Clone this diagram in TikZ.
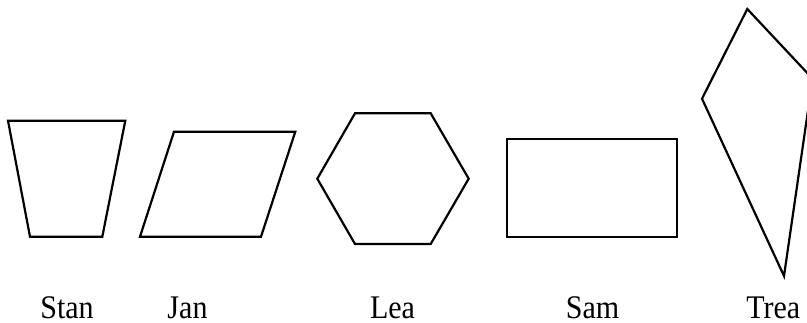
\documentclass[tikz,border=0pt]{standalone}
\usepackage{fontspec}
\setmainfont{Liberation Serif}
\newfontfamily\lblfont[FakeStretch=0.91]{Liberation Serif}
\begin{document}
\begin{tikzpicture}[x=1pt,y=-1pt,
  shapeline/.style={draw=black,line width=2.2pt,line join=miter},
  lbl/.style={anchor=base,inner sep=0pt,font=\lblfont\fontsize{33}{36}\selectfont}]
\useasboundingbox (0,0) rectangle (807,322);
\clip (0,0) rectangle (807,322);
% Stan: trapezoid
\draw[shapeline] (8,120.7) -- (125.3,120.7) -- (102.3,236.7) -- (30,236.7) -- cycle;
% Jan: parallelogram
\draw[shapeline] (174,131.7) -- (295.3,131.7) -- (261,236.7) -- (140,236.7) -- cycle;
% Lea: hexagon
\draw[shapeline] (355,113.3) -- (430.7,113.3) -- (468.7,178.7) -- (430.7,244) -- (355,244) -- (317.3,178.7) -- cycle;
% Sam: rectangle
\draw[shapeline] (506.7,139) rectangle (677,237.3);
% Trea: kite
\draw[shapeline] (747.3,9) -- (812.6,78.7) -- (784,276) -- (702,98.7) -- cycle;
% labels
\node[lbl] (stan) at (67,318.5) {Stan};
\node[lbl] (jan) at (187.5,318.5) {Jan};
\node[lbl] (lea) at (392.5,318.5) {Lea};
\node[lbl] (sam) at (592.5,318.5) {Sam};
\node[lbl] (trea) at (773.3,318.5) {Trea};
\end{tikzpicture}
\end{document}
